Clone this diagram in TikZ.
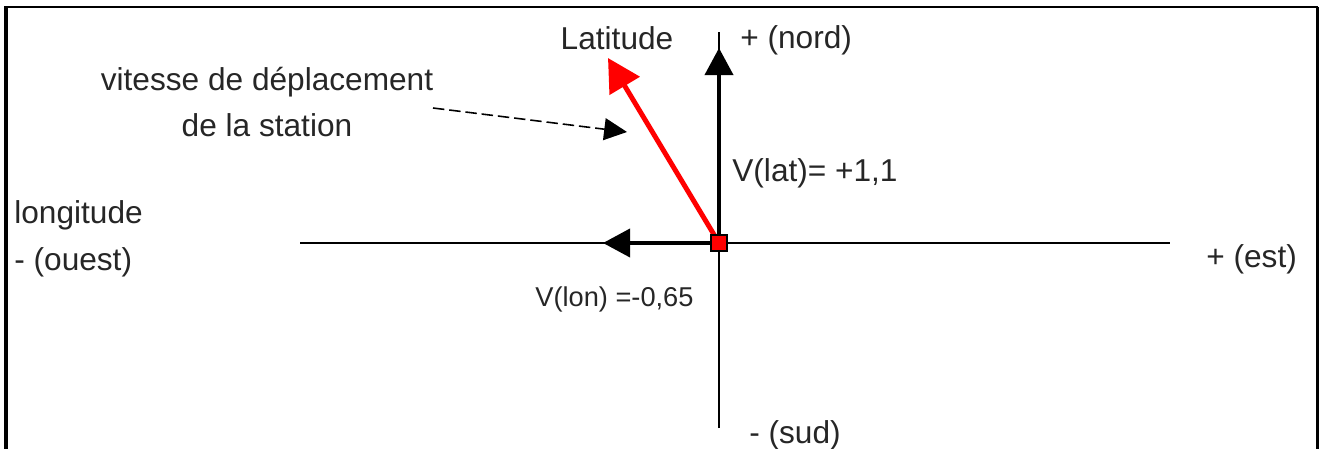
\documentclass[tikz,border=0pt]{standalone}
\usepackage{fontspec}
\setmainfont{Liberation Sans}
\usetikzlibrary{arrows.meta}

\begin{document}
\begin{tikzpicture}[x=0.02cm,y=-0.02cm,
  axe/.style={line width=1.1pt},
  vec/.style={line width=2.4pt,-{Triangle[length=15.5pt,width=16pt]}},
  rouge/.style={draw=red,line width=2.8pt,-{Triangle[length=18.5pt,width=19.5pt]}},
  pointille/.style={line width=0.9pt,dash pattern=on 6.5pt off 2.8pt,
                    -{Triangle[length=13pt,width=12.5pt]}},
  txt/.style={font=\fontsize{18}{26.6}\selectfont,text=black!85,inner sep=0pt},
  petit/.style={font=\fontsize{15.5}{19}\selectfont,text=black!85,inner sep=0pt},
  station/.style={draw=black,fill=red,line width=1pt,minimum size=9.5pt,inner sep=0pt}
]
\useasboundingbox (0,0) rectangle (1322,449);

% cadre
\draw[line width=2.3pt] (6,449) -- (6,6);
\draw[line width=1.2pt] (5,7) -- (1318,7);
\draw[line width=1.7pt] (1317,7) -- (1317,449);

% axes
\coordinate (O)    at (719,243);
\coordinate (ouest) at (300,243);
\coordinate (est)  at (1170,243);
\coordinate (nord) at (719,32);
\coordinate (sud)  at (719,428);
\draw[axe] (ouest) -- (est);
\draw[axe] (sud) -- (nord);

% composantes et vitesse
\coordinate (latip) at (719,48);
\coordinate (lontip) at (603,243);
\coordinate (vtip) at (608,58);
\draw[vec] (O) -- (latip);
\draw[vec] (O) -- (lontip);
\draw[rouge] (O) -- (vtip);
\node[station] (st) at (O) {};

% textes
\node[txt,anchor=base]      (lat)   at (617,50)  {Latitude};
\node[txt,anchor=base west] (pnord) at (740,49)  {+ (nord)};
\node[txt,align=center,anchor=base] (vit) at (267,137)
     {vitesse de déplacement\\de la station};
\node[txt,anchor=base west] (vlat)  at (732,182) {V(lat)= +1,1};
\node[txt,anchor=base west] (lon)   at (14,224)  {longitude};
\node[txt,anchor=base west] (pouest) at (14,271) {- (ouest)};
\node[txt,anchor=base west] (pest)  at (1206,268) {+ (est)};
\node[petit,anchor=base west] (vlon) at (535,307) {V(lon) =-0,65};
\node[txt,anchor=base west] (psud)  at (749,443) {- (sud)};

\coordinate (dstart) at (433,108);
\coordinate (dend)   at (627,132);
\draw[pointille] (dstart) -- (dend);
\end{tikzpicture}
\end{document}
